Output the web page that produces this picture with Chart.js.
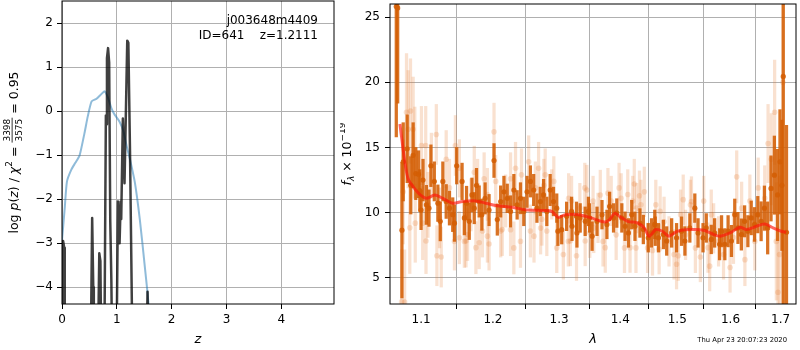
<!DOCTYPE html>
<html>
<head>
<meta charset="utf-8">
<script src="https://cdn.jsdelivr.net/npm/chart.js@4.4.1/dist/chart.umd.min.js"></script>
<style>
  html, body { margin: 0; padding: 0; background: #fff; }
  #wrap { position: relative; width: 800px; height: 350px; }
  canvas { position: absolute; top: 0; }
  #pz { left: 0; }
  #spec { left: 340px; }
</style>
</head>
<body>
<div id="wrap">
  <canvas id="pz" width="340" height="350"></canvas>
  <canvas id="spec" width="460" height="350"></canvas>
</div>
<script>
// ---- left panel: redshift probability ----
const zTicks = [0, 1, 2, 3, 4];
const logpTicks = [-4, -3, -2, -1, 0, 1, 2];

// smooth chi2 curve (blue)
const chi2Z   = [0, 0.05, 0.09, 0.17, 0.24, 0.32, 0.41, 0.47, 0.54, 0.63, 0.72, 0.78, 0.84, 0.90, 0.96, 1.05, 1.12, 1.18, 1.24, 1.33, 1.42, 1.51, 1.56, 1.60];
const chi2Val = [-2.93, -2.2, -1.6, -1.33, -1.18, -1.01, -0.5, -0.12, 0.22, 0.28, 0.39, 0.45, 0.3, 0.07, -0.08, -0.24, -0.46, -0.8, -1.1, -1.63, -2.47, -3.53, -4.13, -4.7];

// log p(z) (black, spiky)
const pzZ    = [0.00, 0.01, 0.02, 0.04, 0.05, 0.52, 0.55, 0.57, 0.58, 0.65, 0.68, 0.70, 0.72, 0.77, 0.80, 0.81, 0.82, 0.84, 0.86, 0.88, 0.90, 0.92, 0.99, 1.02, 1.05, 1.07, 1.08, 1.11, 1.14, 1.19, 1.21, 1.24, 1.29, 1.53, 1.56, 1.58];
const pzLogP = [-6, -4.0, -2.95, -3.1, -6, -6, -2.43, -4.0, -6, -6, -3.23, -3.4, -6, -6, -0.1, -0.3, 1.2, 1.43, 1.1, -2.5, -3.84, -6, -6, -2.05, -3.0, -2.05, -2.45, -0.17, -1.64, 1.6, 1.55, -0.9, -6, -6, -4.1, -6];

// ---- right panel: spectrum ----
const waveTicks = [1.1, 1.2, 1.3, 1.4, 1.5, 1.6, 1.7];
const fluxTicks = [5, 10, 15, 20, 25];

const darkWave = [1.0675, 1.0693, 1.0748, 1.0765, 1.0817, 1.0864, 1.0895, 1.0930, 1.0966, 1.0983, 1.1000, 1.1026, 1.1071, 1.1106, 1.1132, 1.1178, 1.1226, 1.1259, 1.1294, 1.1340, 1.1385, 1.1430, 1.1454, 1.1485, 1.1560, 1.1592, 1.1623, 1.1661, 1.1699, 1.1732, 1.1764, 1.1802, 1.1840, 1.1887, 1.1944, 1.2016, 1.2064, 1.2113, 1.2161, 1.2210, 1.2259, 1.2308, 1.2357, 1.2407, 1.2457, 1.2506, 1.2557, 1.2607, 1.2657, 1.2708, 1.2759, 1.2809, 1.2861, 1.2913, 1.2964, 1.2982, 1.3042, 1.3120, 1.3199, 1.3206, 1.3278, 1.3285, 1.3337, 1.3418, 1.3471, 1.3490, 1.3531, 1.3612, 1.3694, 1.3776, 1.3821, 1.3887, 1.3942, 1.4027, 1.4082, 1.4140, 1.4196, 1.4252, 1.4338, 1.4397, 1.4483, 1.4541, 1.4598, 1.4606, 1.4663, 1.4751, 1.4810, 1.4899, 1.4988, 1.5079, 1.5140, 1.5231, 1.5323, 1.5383, 1.5476, 1.5537, 1.5631, 1.5695, 1.5789, 1.5827, 1.5890, 1.5953, 1.6018, 1.6082, 1.6145, 1.6211, 1.6275, 1.6340, 1.6406, 1.6472, 1.6537, 1.6604, 1.6670, 1.6736, 1.6804, 1.6872, 1.6938, 1.6987, 1.7028, 1.7055, 1.7122];
const darkFlux = [25.8, 25.7, 8.66, 13.9, 14.9, 12.1, 14.4, 13.0, 12.95, 11.7, 10.2, 12.5, 10.6, 10.35, 13.6, 12.4, 10.73, 9.34, 12.4, 10.86, 10.35, 9.85, 9.2, 13.6, 12.4, 9.6, 10.73, 9.34, 11.36, 10.35, 12.1, 10.86, 9.85, 11.1, 10.2, 14.0, 9.47, 10.86, 11.6, 11.1, 10.1, 11.74, 10.6, 11.1, 10.1, 11.6, 12.4, 11.74, 10.35, 10.86, 11.36, 10.1, 11.74, 10.86, 10.35, 8.58, 8.7, 9.72, 10.1, 8.96, 9.72, 8.45, 9.6, 9.34, 10.1, 9.6, 8.2, 9.34, 9.85, 9.1, 10.48, 9.6, 9.97, 9.6, 8.96, 8.45, 9.85, 8.96, 9.21, 8.71, 8.08, 8.45, 9.1, 8.58, 8.08, 8.33, 7.83, 8.45, 8.08, 8.58, 7.83, 8.83, 10.35, 8.45, 8.08, 8.83, 7.95, 8.45, 7.58, 8.58, 7.58, 8.58, 7.83, 9.85, 8.83, 8.33, 9.34, 8.58, 9.6, 9.1, 9.85, 9.34, 10.35, 8.83, 11.86, 12.88, 11.36, 13.9, 12.1, 20.45, 8.5];
const darkErr  = [10, 7.3, 5.2, 3.0, 2.6, 2.2, 2.5, 2.0, 1.8, 1.6, 1.5, 1.6, 1.5, 1.4, 1.6, 1.5, 1.4, 1.5, 1.5, 1.3, 1.3, 1.3, 1.4, 1.4, 1.4, 1.3, 1.3, 1.4, 1.3, 1.2, 1.3, 1.2, 1.2, 1.2, 1.2, 1.3, 1.2, 1.2, 1.2, 1.1, 1.2, 1.2, 1.1, 1.2, 1.1, 1.2, 1.2, 1.2, 1.1, 1.1, 1.2, 1.1, 1.2, 1.1, 1.1, 1.1, 1.1, 1.1, 1.1, 1.1, 1.1, 1.1, 1.1, 1.1, 1.1, 1.1, 1.1, 1.1, 1.1, 1.1, 1.1, 1.1, 1.1, 1.1, 1.1, 1.1, 1.1, 1.1, 1.1, 1.1, 1.1, 1.1, 1.1, 1.1, 1.1, 1.1, 1.1, 1.1, 1.1, 1.1, 1.1, 1.1, 1.1, 1.1, 1.1, 1.1, 1.1, 1.1, 1.2, 1.2, 1.2, 1.2, 1.2, 1.2, 1.2, 1.2, 1.2, 1.2, 1.3, 1.3, 1.4, 1.5, 1.7, 2.0, 2.5, 3.0, 3.5, 4.0, 5.0, 20, 8.2];

const lightWave = [1.0744, 1.0765, 1.0783, 1.0808, 1.0829, 1.0851, 1.0860, 1.0895, 1.0917, 1.0923, 1.1005, 1.1022, 1.1062, 1.1066, 1.1092, 1.1138, 1.1205, 1.1213, 1.1249, 1.1272, 1.1340, 1.1385, 1.1454, 1.1467, 1.1522, 1.1592, 1.1637, 1.1685, 1.1732, 1.1779, 1.1849, 1.1920, 1.1944, 1.2016, 1.2040, 1.2113, 1.2186, 1.2259, 1.2308, 1.2333, 1.2407, 1.2422, 1.2531, 1.2557, 1.2633, 1.2682, 1.2733, 1.2784, 1.2809, 1.2886, 1.2964, 1.3068, 1.3147, 1.3199, 1.3278, 1.3332, 1.3412, 1.3493, 1.3547, 1.3628, 1.3711, 1.3793, 1.3848, 1.3931, 1.4015, 1.4072, 1.4128, 1.4213, 1.4269, 1.4355, 1.4414, 1.4471, 1.4558, 1.4616, 1.4675, 1.4763, 1.4852, 1.4942, 1.4988, 1.5061, 1.5152, 1.5242, 1.5334, 1.5426, 1.5489, 1.5601, 1.5676, 1.5770, 1.5865, 1.5991, 1.6057, 1.6120, 1.6217, 1.6281, 1.6379, 1.6478, 1.6545, 1.6676, 1.6744, 1.6810, 1.6878, 1.6912, 1.6946, 1.6979, 1.7048,
  1.1522, 1.1615, 1.1755, 1.1802, 1.1873, 1.1920, 1.2136, 1.2259, 1.2612, 1.2713, 1.2763, 1.2918, 1.3152, 1.3179, 1.3418, 1.3445, 1.3558, 1.3666, 1.3748, 1.3980, 1.4167, 1.4240, 1.4281, 1.4330, 1.4693, 1.5019, 1.5109, 1.5261, 1.5569, 1.5631];
const lightFlux = [3.16, 11.6, 3.15, 17.7, 16.4, 8.84, 17.8, 16.4, 14.6, 9.2, 15.15, 9.2, 15.15, 7.83, 10.6, 13.6, 16.0, 6.7, 9.6, 6.6, 14.1, 11.9, 7.8, 15.15, 13.4, 7.8, 8.33, 10.6, 13.1, 12.1, 8.6, 11.4, 7.6, 16.2, 12.4, 8.6, 10.9, 8.7, 7.3, 13.4, 7.8, 12.9, 13.9, 8.6, 11.9, 13.4, 9.5, 12.9, 8.6, 11.4, 7.3, 6.8, 7.8, 10.9, 6.7, 10.35, 11.9, 8.46, 10.9, 9.6, 7.8, 11.5, 10.9, 8.3, 11.1, 7.3, 11.4, 10.9, 7.3, 10.6, 11.6, 7.3, 7.1, 10.6, 7.2, 9.3, 7.8, 6.8, 6.05, 9.85, 8.3, 10.6, 7.3, 6.6, 10.9, 5.9, 8.8, 7.8, 6.8, 5.8, 8.1, 12.75, 10.35, 6.4, 10.9, 7.8, 11.9, 11.1, 15.3, 14.1, 17.7, 7.8, 3.9, 6.8, 20.0,
  8.08, 7.83, 7.32, 7.7, 12.6, 8.2, 8.71, 12.6, 8.2, 8.83, 12.1, 12.4, 11.1, 7.83, 7.83, 11.74, 8.83, 11.36, 7.32, 11.9, 7.32, 12.2, 10.35, 11.3, 10.1, 6.7, 11.0, 10.86, 7.32, 9.85];
const lightErr  = [4, 4, 4, 4.5, 4.5, 3.5, 4, 4, 3.5, 3, 3, 2.8, 3, 2.5, 2.5, 2.5, 2.3, 2.3, 2.3, 2.3, 2.2, 2.2, 2.2, 2.3, 2.2, 2.0, 2.0, 2.0, 2.0, 2.0, 2.0, 2.0, 2.0, 2.2, 2.0, 2.0, 2.0, 2.0, 2.0, 2.0, 2.0, 2.0, 2.0, 2.0, 2.0, 2.0, 2.0, 2.0, 1.9, 1.9, 1.9, 1.9, 1.9, 1.9, 1.9, 1.9, 1.9, 1.9, 1.9, 1.9, 1.9, 1.9, 1.9, 1.9, 1.9, 1.9, 1.9, 1.9, 1.9, 1.9, 1.9, 1.9, 1.9, 1.9, 1.9, 1.9, 1.9, 1.9, 1.9, 1.9, 1.9, 1.9, 1.9, 1.9, 1.9, 1.9, 1.9, 1.9, 1.9, 1.9, 2.0, 2.0, 2.0, 2.0, 2.0, 2.2, 2.3, 2.5, 3.0, 3.5, 4.0, 4.5, 5.0, 6.0, 20,
  2.0, 2.0, 2.0, 2.0, 2.0, 2.0, 2.0, 2.0, 2.0, 2.0, 2.0, 1.9, 1.9, 1.9, 1.9, 1.9, 1.9, 1.9, 1.9, 1.9, 1.9, 1.9, 1.9, 1.9, 1.9, 1.9, 1.9, 1.9, 1.9, 1.9];

const modelWave = [1.0722, 1.0786, 1.0829, 1.0894, 1.0983, 1.1071, 1.1182, 1.1294, 1.1430, 1.1568, 1.1755, 1.1897, 1.2041, 1.2283, 1.2482, 1.2784, 1.2886, 1.2990, 1.3095, 1.3305, 1.3519, 1.3738, 1.3821, 1.3904, 1.3988, 1.4128, 1.4298, 1.4414, 1.4500, 1.4616, 1.4734, 1.4852, 1.5001, 1.5242, 1.5489, 1.5676, 1.5800, 1.5991, 1.6184, 1.6314, 1.6511, 1.6676, 1.6845, 1.7013, 1.7116];
const modelFlux = [16.8, 13.9, 12.6, 12.0, 11.4, 11.1, 11.36, 11.1, 10.73, 10.86, 10.9, 10.73, 10.55, 10.42, 10.23, 10.17, 10.1, 9.64, 9.85, 9.85, 9.6, 9.29, 9.47, 9.95, 9.72, 9.34, 9.21, 8.83, 8.2, 8.71, 8.58, 8.2, 8.58, 8.71, 8.66, 8.33, 8.2, 8.45, 8.89, 8.71, 8.96, 9.14, 8.83, 8.58, 8.5];

const FONT = '"DejaVu Sans"';
Chart.defaults.font.family = FONT;
Chart.defaults.font.size = 12;
Chart.defaults.color = '#000';

const minus = v => String(v).replace('-', '\u2212');
const fixedTicks = values => scale => { scale.ticks = values.map(v => ({ value: v })); };
// fixed axis box, no extra room for label overflow (matplotlib lets it spill)
const fitX = s => { s.height = 46; s.paddingLeft = 0; s.paddingRight = 0; };
const fitY = w => s => { s.width = w; s.paddingTop = 0; s.paddingBottom = 0; };

function axis(extra) {
  return Object.assign({
    border: { display: false },
    grid: { color: '#b0b0b0', lineWidth: 1, tickColor: '#000', tickLength: 5, tickWidth: 1 },
    ticks: { color: '#000', padding: 4, maxRotation: 0, autoSkip: false, font: { size: 12 } }
  }, extra);
}

// rich text along a (rotated) baseline, with sup/sub and a stacked fraction
function richWidth(ctx, parts) {
  let w = 0;
  for (const p of parts) {
    ctx.font = p.font;
    if (p.frac) w += Math.max(ctx.measureText(p.frac[0]).width, ctx.measureText(p.frac[1]).width) + 2;
    else w += ctx.measureText(p.t).width;
  }
  return w;
}
function drawRich(ctx, parts, x, y, angle) {
  ctx.save();
  ctx.translate(x, y);
  ctx.rotate(angle);
  ctx.fillStyle = '#000';
  ctx.textAlign = 'left';
  ctx.textBaseline = 'alphabetic';
  let cx = -richWidth(ctx, parts) / 2;
  for (const p of parts) {
    ctx.font = p.font;
    if (p.frac) {
      const wn = ctx.measureText(p.frac[0]).width, wd = ctx.measureText(p.frac[1]).width;
      const w = Math.max(wn, wd) + 2;
      ctx.fillText(p.frac[0], cx + (w - wn) / 2, -7.5);
      ctx.fillText(p.frac[1], cx + (w - wd) / 2, 4);
      ctx.fillRect(cx, -5.8, w, 0.8);
      cx += w;
    } else {
      ctx.fillText(p.t, cx, p.dy || 0);
      cx += ctx.measureText(p.t).width;
    }
  }
  ctx.restore();
}

const rm = '12.5px ' + FONT, it = 'italic 12.5px ' + FONT, sm = '9px ' + FONT, smIt = 'italic 9px ' + FONT;

const boxPlugin = {
  id: 'box',
  afterDatasetsDraw(chart) {
    const { ctx, chartArea: a } = chart;
    ctx.save();
    ctx.strokeStyle = '#000';
    ctx.lineWidth = 1;
    ctx.strokeRect(a.left, a.top, a.right - a.left, a.bottom - a.top);
    ctx.restore();
  }
};

const pzText = {
  id: 'pzText',
  afterDraw(chart) {
    const { ctx, chartArea: a } = chart;
    ctx.save();
    ctx.fillStyle = '#000';
    ctx.font = 'italic 13px ' + FONT;
    ctx.textAlign = 'center';
    ctx.textBaseline = 'middle';
    ctx.fillText('z', (a.left + a.right) / 2, a.bottom + 36);
    ctx.font = '12px ' + FONT;
    ctx.textAlign = 'right';
    ctx.textBaseline = 'alphabetic';
    ctx.fillText('j003648m4409', a.right - 16, a.top + 23);
    ctx.fillText('ID=641    z=1.2111', a.right - 16, a.top + 37.5);
    ctx.restore();
    drawRich(ctx, [
      { font: rm, t: 'log ' }, { font: it, t: 'p' }, { font: rm, t: '(' }, { font: it, t: 'z' },
      { font: rm, t: ') / ' }, { font: it, t: 'χ' }, { font: sm, t: '2', dy: -5.5 }, { font: rm, t: ' = ' },
      { font: sm, frac: ['3398', '3575'] }, { font: rm, t: ' = 0.95' }
    ], 17.5, (a.top + a.bottom) / 2, -Math.PI / 2);
  }
};

const specText = {
  id: 'specText',
  afterDraw(chart) {
    const { ctx, chartArea: a } = chart;
    ctx.save();
    ctx.fillStyle = '#000';
    ctx.font = 'italic 13px ' + FONT;
    ctx.textAlign = 'center';
    ctx.textBaseline = 'middle';
    ctx.fillText('λ', (a.left + a.right) / 2, a.bottom + 36);
    ctx.font = '6.8px ' + FONT;
    ctx.textAlign = 'right';
    ctx.textBaseline = 'alphabetic';
    ctx.fillText('Thu Apr 23 20:07:23 2020', 447, 342);
    ctx.restore();
    drawRich(ctx, [
      { font: it, t: 'f' }, { font: smIt, t: 'λ', dy: 3 }, { font: rm, t: ' × 10' }, { font: sm, t: '\u221219', dy: -6 }
    ], 10.5, (a.top + a.bottom) / 2, -Math.PI / 2);
  }
};

const common = {
  responsive: false,
  animation: false,
  events: [],
  plugins: { legend: { display: false }, tooltip: { enabled: false } }
};

new Chart(document.getElementById('pz'), {
  type: 'scatter',
  data: {
    datasets: [
      {
        type: 'line', order: 0, clip: 0,
        data: pzZ.map((z, i) => ({ x: z, y: pzLogP[i] })),
        borderColor: 'rgba(0,0,0,0.75)', borderWidth: 2.5, borderJoinStyle: 'round',
        pointRadius: 0, tension: 0
      },
      {
        type: 'line', order: 1, clip: 0,
        data: chi2Z.map((z, i) => ({ x: z, y: chi2Val[i] })),
        borderColor: 'rgba(31,119,180,0.5)', borderWidth: 2, borderJoinStyle: 'round',
        pointRadius: 0, tension: 0.2
      }
    ]
  },
  options: Object.assign({}, common, {
    layout: { padding: { left: 0, top: 1, right: 6, bottom: 0 } },
    scales: {
      x: axis({ type: 'linear', min: 0, max: 4.96, afterBuildTicks: fixedTicks(zTicks), afterFit: fitX }),
      y: axis({ type: 'linear', min: -4.38, max: 2.5, afterBuildTicks: fixedTicks(logpTicks), afterFit: fitY(62),
        ticks: { color: '#000', padding: 4, font: { size: 12 }, callback: v => minus(v) } })
    }
  }),
  plugins: [boxPlugin, pzText]
});

const darkCol = 'rgba(212,94,4,0.88)';
const lightCol = 'rgba(228,120,40,0.22)';

new Chart(document.getElementById('spec'), {
  type: 'scatter',
  data: {
    datasets: [
      {
        type: 'line', order: 0, clip: 0,
        data: modelWave.map((w, i) => ({ x: w, y: modelFlux[i] })),
        borderColor: 'rgba(255,20,10,0.65)', borderWidth: 3, borderJoinStyle: 'round',
        pointRadius: 0, tension: 0.3
      },
      {
        type: 'scatter', order: 1, clip: 0,
        data: darkWave.map((w, i) => ({ x: w, y: darkFlux[i] })),
        backgroundColor: darkCol, borderWidth: 0, pointRadius: 2.6
      },
      {
        type: 'bar', order: 2, clip: 0, grouped: false,
        data: darkWave.map((w, i) => ({ x: w, y: [darkFlux[i] - darkErr[i], darkFlux[i] + darkErr[i]] })),
        backgroundColor: darkCol, borderWidth: 0, barThickness: 2.6
      },
      {
        type: 'scatter', order: 3, clip: 0,
        data: lightWave.map((w, i) => ({ x: w, y: lightFlux[i] })),
        backgroundColor: lightCol, borderWidth: 0, pointRadius: 2.8
      },
      {
        type: 'bar', order: 4, clip: 0, grouped: false,
        data: lightWave.map((w, i) => ({ x: w, y: [lightFlux[i] - lightErr[i], lightFlux[i] + lightErr[i]] })),
        backgroundColor: lightCol, borderWidth: 0, barThickness: 2.6
      }
    ]
  },
  options: Object.assign({}, common, {
    layout: { padding: { left: 0, top: 1, right: 1, bottom: 0 } },
    scales: {
      x: axis({ type: 'logarithmic', min: 1.0594, max: 1.732, offset: false,
        afterBuildTicks: fixedTicks(waveTicks), afterFit: fitX,
        ticks: { color: '#000', padding: 4, maxRotation: 0, autoSkip: false, font: { size: 12 }, callback: v => Number(v).toFixed(1) } }),
      y: axis({ type: 'linear', min: 3, max: 26, afterBuildTicks: fixedTicks(fluxTicks), afterFit: fitY(50),
        ticks: { color: '#000', padding: 5, font: { size: 12 } } })
    }
  }),
  plugins: [boxPlugin, specText]
});
</script>
</body>
</html>
